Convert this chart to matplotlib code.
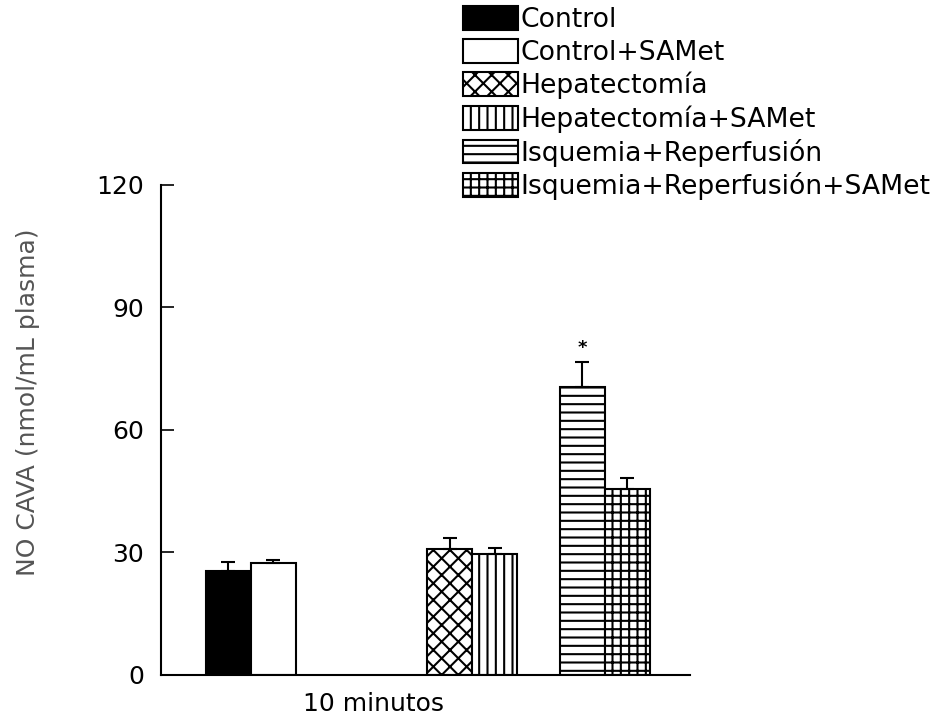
import numpy as np
import matplotlib
matplotlib.use("Agg")
import matplotlib.pyplot as plt

# values (nmol/mL plasma), one time point
groups = ["Control", "Control+SAMet", "Hepatectomía", "Hepatectomía+SAMet",
          "Isquemia+Reperfusión", "Isquemia+Reperfusión+SAMet"]
means = [25.5, 27.4, 30.9, 29.7, 70.6, 45.6]
errors = [2.2, 0.8, 2.7, 1.4, 6.1, 2.7]
positions = [1.5, 2.5, 6.42, 7.42, 9.36, 10.36]
faces = ["black", "white", "white", "white", "white", "white"]
hatches = [None, None, "xx", "||", "--", "++"]
signif = [False, False, False, False, True, False]

yticks = [0, 30, 60, 90, 120]
time_label = "10 minutos"
time_pos = 4.73

plt.rcParams["hatch.linewidth"] = 1.5

fig = plt.figure(figsize=(9.4, 7.24), dpi=100)
ax = fig.add_axes([0.171, 0.0677, 0.563, 0.677])

bars = []
for i in range(len(groups)):
    b = ax.bar(positions[i], means[i], width=1.0, color=faces[i], edgecolor="black",
               linewidth=1.5, hatch=hatches[i], label=groups[i], zorder=2)
    bars.append(b)
    ax.errorbar(positions[i], means[i], yerr=[[0], [errors[i]]], fmt="none",
                ecolor="black", elinewidth=1.5, capsize=5, capthick=1.5, zorder=3)
    if signif[i]:
        ax.text(positions[i], means[i] + errors[i] + 3.4, "*", ha="center", va="center",
                fontsize=13, fontweight="bold")

ax.set_xlim(0, 11.75)
ax.set_ylim(0, 120)
ax.set_yticks(yticks)
ax.set_yticklabels([str(t) for t in yticks], fontsize=18)
ax.tick_params(axis="y", direction="in", length=9, width=1.2, pad=12)
ax.set_xticks([time_pos])
ax.set_xticklabels([time_label], fontsize=18)
ax.tick_params(axis="x", length=0, pad=12)
for s in ["top", "right"]:
    ax.spines[s].set_visible(False)
for s in ["left", "bottom"]:
    ax.spines[s].set_linewidth(1.5)

ax.set_ylabel("NO CAVA (nmol/mL plasma)", fontsize=18, color="#555555")
ax.yaxis.set_label_coords(-0.229, 0.557)

# legend sits above the plot, to the right
fig.legend(handles=[b[0] for b in bars], labels=groups, loc="upper left",
           bbox_to_anchor=(463 / 940, 1 - 6 / 724), frameon=False, fontsize=19.2,
           handlelength=2.06, handleheight=1.0, handletextpad=0.08, labelspacing=0.22,
           borderpad=0, borderaxespad=0)

fig.savefig("out.png", dpi=100)
